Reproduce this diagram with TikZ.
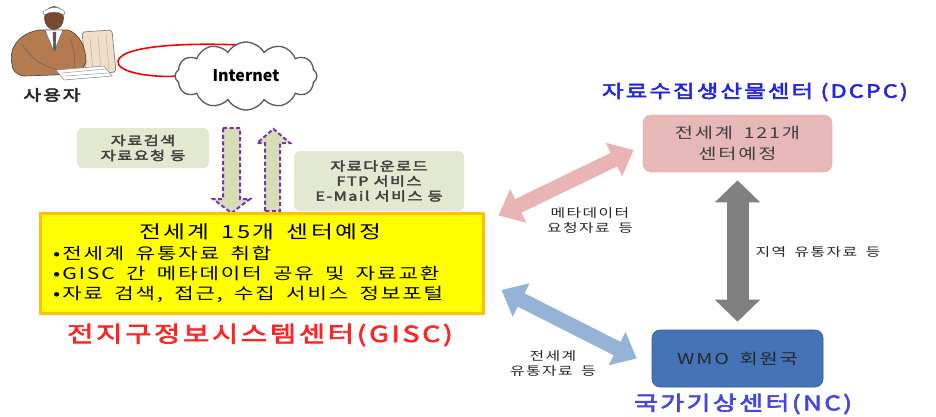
\documentclass[tikz,border=0pt]{standalone}
\usepackage{fontspec}
\setmainfont{Noto Sans CJK KR}
\newfontfamily\kr[FakeStretch=1.32,LetterSpace=12,WordSpace=1.7]{Noto Sans CJK KR}
\newfontfamily\krb[FakeStretch=1.3,LetterSpace=12,FakeBold=3]{Noto Sans CJK KR}
\usetikzlibrary{shapes.symbols,arrows.meta,calc}

\definecolor{boxgreen}{HTML}{E3E8D0}
\definecolor{arrgreen}{HTML}{D5DEB5}
\definecolor{dashpurple}{HTML}{7A30B0}
\definecolor{giscyellow}{HTML}{FFFF00}
\definecolor{giscorange}{HTML}{FFC000}
\definecolor{pinkfill}{HTML}{E6B9B8}
\definecolor{pinkarrow}{HTML}{E8B4B4}
\definecolor{grayarrow}{HTML}{808080}
\definecolor{bluearrow}{HTML}{95B3D7}
\definecolor{wmoblue}{HTML}{4573B8}
\definecolor{titleblue}{HTML}{2424E0}
\definecolor{titlered}{HTML}{FF2424}
\definecolor{skin}{HTML}{7A4A2E}
\definecolor{suit}{HTML}{B57A4E}
\definecolor{screen}{HTML}{F2DEC8}

\tikzset{
  greenbox/.style={fill=boxgreen, rounded corners=6pt, inner sep=3pt, align=center,
    font=\krb\fontsize{12.5}{15}\selectfont, text=black!75},
  blockarrow/.style={fill=arrgreen, draw=dashpurple, line width=2pt, dash pattern=on 4pt off 2.5pt},
  label/.style={font=\kr\fontsize{12}{15}\selectfont, text=black!85, align=center},
  bullet/.style={font=\kr\fontsize{16}{20}\selectfont, align=left, anchor=north west, inner sep=0pt}
}

\begin{document}
\begin{tikzpicture}[x=1pt,y=-1pt]
\useasboundingbox (0,0) rectangle (936,416);
\fill[white] (0,0) rectangle (936,416);

% ---- user at a computer ----
\begin{scope}
  % monitor / tower
  \filldraw[fill=screen, draw=black!55, line width=0.6pt, rounded corners=3pt]
    (82,32) -- (112,30) -- (116,72) -- (86,75) -- cycle;
  \draw[black!30, line width=0.5pt] (90,38) -- (93,70) (98,36) -- (101,70) (106,35) -- (109,69);
  % body in suit
  \filldraw[fill=suit, draw=black!70, line width=0.7pt]
    (12,64) .. controls (8,46) and (22,32) .. (40,30)
    -- (68,30) .. controls (80,34) and (86,48) .. (86,62)
    -- (80,74) -- (24,76) .. controls (16,75) and (12,70) .. (12,64) -- cycle;
  \draw[black!60, line width=0.6pt] (22,44) .. controls (30,58) and (42,66) .. (58,70);
  \draw[black!60, line width=0.5pt] (70,38) .. controls (74,50) and (76,58) .. (74,68);
  % shirt and tie
  \filldraw[fill=white, draw=black!60, line width=0.5pt] (45,30) -- (63,30) -- (54,52) -- cycle;
  \filldraw[fill=black!65, draw=black!70, line width=0.4pt] (53,32) -- (56,32) -- (55.5,50) -- (53.5,50) -- cycle;
  % head
  \filldraw[fill=skin, draw=black!70, line width=0.6pt] (54,18) ellipse (9.5 and 11.5);
  \filldraw[fill=white, draw=black!50, line width=0.5pt] (43,12) .. controls (50,6) and (59,6) .. (65,12)
    -- (64,15) .. controls (58,11) and (50,11) .. (44,15) -- cycle;
  % keyboard and desk
  \filldraw[fill=white, draw=black!50, line width=0.5pt] (56,70) -- (104,66) -- (112,76) -- (64,80) -- cycle;
  \draw[black!40, line width=0.5pt] (62,73) -- (106,69) (66,76) -- (108,73);
\end{scope}
\node[font=\krb\fontsize{15}{18}\selectfont, text=black!85] (user) at (52,95) {사용자};

% ---- link from user to the internet ----
\coordinate (loop) at (118,61);
\draw[red, line width=1.6pt] (258,46) .. controls (200,42) and (122,44) .. (loop)
  .. controls (116,72) and (150,78) .. (178,76);

% ---- internet cloud ----
\node[cloud, cloud puffs=12, cloud puff arc=120, aspect=2.1, draw=black!65, line width=1.3pt,
      fill=white, minimum width=142pt, minimum height=68pt, inner sep=0pt,
      font=\bfseries\fontsize{16}{18}\selectfont] (cloud) at (246,76) {Internet};

% ---- request / download notes ----
\node[greenbox, minimum width=132pt, minimum height=40pt] (req) at (143,148) {자료검색\\자료요청 등};
\node[greenbox, minimum width=170pt, minimum height=60pt] (dl) at (379,181)
  {자료다운로드\\FTP 서비스\\E-Mail 서비스 등};

% ---- request arrow (down) and download arrow (up) ----
\filldraw[blockarrow] (223,128) -- (240,128) -- (240,199) -- (250,199) -- (231.5,213)
  -- (213,199) -- (223,199) -- cycle;
\filldraw[blockarrow] (265,211) -- (265,143) -- (257,143) -- (273.5,129) -- (290,143)
  -- (280,143) -- (280,211) -- cycle;

% ---- GISC ----
\node[fill=giscyellow, draw=giscorange, line width=3pt, minimum width=443pt, minimum height=100pt,
      inner sep=0pt] (gisc) at (261.5,263) {};
\node[font=\kr\fontsize{18}{20}\selectfont] (gisctitle) at (260,232) {전세계 15개 센터예정};
\node[bullet] (giscitems) at (53,246) {•전세계 유통자료 취합\\•GISC 간 메타데이터 공유 및 자료교환\\•자료 검색, 접근, 수집 서비스 정보포털};
\node[font=\krb\fontsize{22}{26}\selectfont, text=titlered] (gisclabel) at (260,335) {전지구정보시스템센터(GISC)};

% ---- DCPC ----
\node[font=\krb\fontsize{18}{22}\selectfont, text=titleblue] (dcpclabel) at (755,92) {자료수집생산물센터 (DCPC)};
\node[fill=pinkfill, draw=pinkarrow!80!red, densely dotted, line width=0.6pt, rounded corners=8pt,
      minimum width=189pt, minimum height=57pt, align=center,
      font=\kr\fontsize{15}{21}\selectfont, text=black!75] (dcpc) at (737.5,143.5) {전세계 121개\\센터예정};

% ---- NC ----
\node[fill=wmoblue, draw=wmoblue!80!black, line width=0.6pt, rounded corners=8pt,
      minimum width=171pt, minimum height=57pt,
      font=\kr\fontsize{15}{18}\selectfont, text=black!85] (wmo) at (737.5,358.5) {WMO 회원국};
\node[font=\krb\fontsize{20}{24}\selectfont, text=titleblue!85!white] (nclabel) at (743,404) {국가기상센터(NC)};

% ---- data exchange arrows ----
\draw[pinkarrow, line width=15pt, {Triangle[width=36pt,length=22pt]}-{Triangle[width=36pt,length=22pt]}]
  ([xshift=14pt,yshift=-4pt]gisc.north east) -- ([xshift=-9pt,yshift=-6.5pt]dcpc.west);
\draw[bluearrow, line width=15pt, {Triangle[width=36pt,length=22pt]}-{Triangle[width=36pt,length=22pt]}]
  ([xshift=17pt,yshift=-27pt]gisc.east) -- ([xshift=-15pt]wmo.west);
\draw[grayarrow, line width=22pt, {Triangle[width=44pt,length=22pt]}-{Triangle[width=44pt,length=22pt]}]
  ([yshift=-8pt]dcpc.south) -- ([yshift=8pt]wmo.north);

% ---- arrow labels ----
\node[label] (metalabel) at (590,220) {메타데이터\\요청자료 등};
\node[label] (regionlabel) at (818,252) {지역 유통자료 등};
\node[label] (globallabel) at (553,363) {전세계\\유통자료 등};
\end{tikzpicture}
\end{document}
